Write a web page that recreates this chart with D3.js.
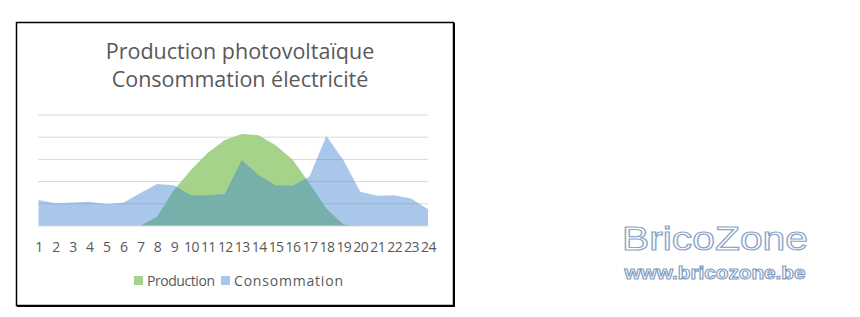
<!DOCTYPE html>
<html><head><meta charset="utf-8">
<script src="https://cdn.jsdelivr.net/npm/d3@7"></script>
<style>body{margin:0;background:#fff;}</style>
</head><body>
<svg id="c" width="860" height="317"></svg>
<script>
const hours = d3.range(1, 25).map(String);
const production = [0,0,0,0,0,0,0,0.42,1.62,2.52,3.3,3.87,4.14,4.09,3.64,3.0,1.92,0.79,0.07,0,0,0,0,0];
const consommation = [1.17,1.02,1.06,1.09,0.99,1.05,1.47,1.89,1.84,1.39,1.39,1.44,2.97,2.29,1.84,1.81,2.22,4.05,2.97,1.54,1.36,1.39,1.24,0.76];
const yTicks = [0,1,2,3,4,5];
const seriesNames = ["Production", "Consommation"];
const titleLines = ["Production photovoltaïque", "Consommation électricité"];

const svg = d3.select("#c");
const font = "'Open Sans', 'Noto Sans', sans-serif";

// frame
svg.append("rect").attr("x",16.5).attr("y",22.5).attr("width",437).attr("height",283)
  .attr("fill","#fff").attr("stroke","#000").attr("stroke-width",1.5);
svg.append("line").attr("x1",454).attr("x2",454).attr("y1",23).attr("y2",307).attr("stroke","#000").attr("stroke-width",2);
svg.append("line").attr("x1",17).attr("x2",455).attr("y1",306).attr("y2",306).attr("stroke","#000").attr("stroke-width",2);

const x = d3.scalePoint().domain(hours).range([38.5, 428]);
const y = d3.scaleLinear().domain([0,5]).range([226, 115]);

// gridlines
svg.append("g").selectAll("line").data(yTicks.slice(1)).join("line")
  .attr("x1",38).attr("x2",428).attr("y1",d=>y(d)).attr("y2",d=>y(d))
  .attr("stroke","#d9d9d9").attr("stroke-width",1);

const area = data => d3.area().x((d,i)=>x(hours[i])).y0(y(0)).y1(d=>y(d))(data);
svg.append("path").attr("d", area(production)).attr("fill","#a6d38a");
svg.append("path").attr("d", area(consommation)).attr("fill","rgb(62,131,211)").attr("fill-opacity",0.45);

svg.append("line").attr("x1",38).attr("x2",428).attr("y1",y(0)).attr("y2",y(0))
  .attr("stroke","#d9d9d9").attr("stroke-width",1);

// x axis
const ax = svg.append("g").attr("transform","translate(0,226)").call(d3.axisBottom(x).tickSize(0).tickPadding(16));
ax.select(".domain").remove();
ax.selectAll("text").attr("font-family",font).attr("font-size",14).attr("letter-spacing",-0.6).attr("fill","#595959");

// title
svg.append("g").selectAll("text").data(titleLines).join("text")
  .attr("x",240).attr("y",(d,i)=>59+i*28).attr("text-anchor","middle")
  .attr("font-family",font).attr("font-size",21.5).attr("fill","#595959").text(d=>d);

// legend
const lg = svg.append("g");
const legendX = [134, 221];
const legendColors = ["#a6d38a", "#a8c7eb"];
const legendW = [68, 109];
seriesNames.forEach((n,i)=>{
  lg.append("rect").attr("x",legendX[i]).attr("y",276).attr("width",9).attr("height",9).attr("fill",legendColors[i]);
  lg.append("text").attr("x",legendX[i]+13).attr("y",285.5).attr("font-family",font).attr("font-size",14)
    .attr("textLength",legendW[i]).attr("fill","#595959").text(n);
});

// logo
svg.append("text").attr("x",715).attr("y",250).attr("text-anchor","middle")
  .attr("font-family","'Liberation Sans', Arial, sans-serif").attr("font-size",34).attr("textLength",186)
  .attr("lengthAdjust","spacingAndGlyphs")
  .attr("fill","#fff").attr("stroke","#8aa6c8").attr("stroke-width",1.2).text("BricoZone");
svg.append("text").attr("x",715).attr("y",279).attr("text-anchor","middle")
  .attr("font-family","'Liberation Sans', Arial, sans-serif").attr("font-weight","bold").attr("font-size",19).attr("textLength",181)
  .attr("lengthAdjust","spacingAndGlyphs")
  .attr("fill","#fff").attr("stroke","#7f9cc2").attr("stroke-width",1.1).text("www.bricozone.be");
</script>
</body></html>
